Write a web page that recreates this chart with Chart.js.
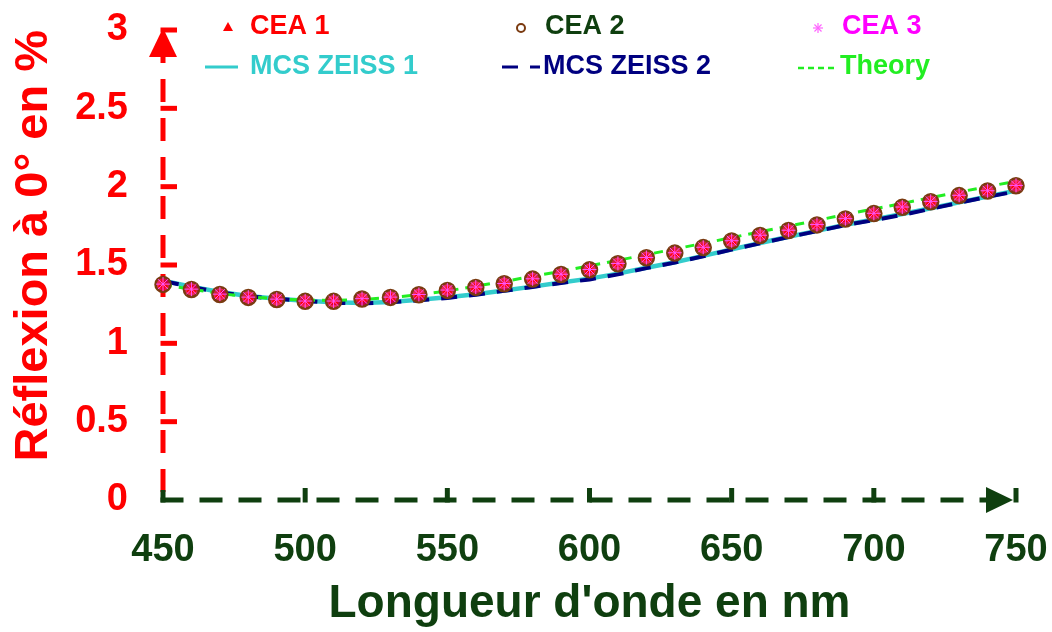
<!DOCTYPE html>
<html><head><meta charset="utf-8">
<script src="https://cdn.jsdelivr.net/npm/chart.js@4/dist/chart.umd.min.js"></script>
<style>html,body{margin:0;padding:0;background:#fff}#wrap{width:1052px;height:632px}</style>
</head><body><div id="wrap"><canvas id="c" width="1052" height="632"></canvas></div>
<script>
const wavelengths = [450,460,470,480,490,500,510,520,530,540,550,560,570,580,590,600,610,620,630,640,650,660,670,680,690,700,710,720,730,740,750];
const cea1 = [1.376,1.344,1.312,1.293,1.280,1.268,1.268,1.283,1.293,1.310,1.338,1.357,1.380,1.410,1.439,1.469,1.508,1.546,1.576,1.611,1.653,1.688,1.720,1.756,1.794,1.828,1.868,1.904,1.943,1.972,2.006];
const cea2 = [1.376,1.344,1.312,1.293,1.280,1.268,1.268,1.283,1.293,1.310,1.338,1.357,1.380,1.410,1.439,1.469,1.508,1.546,1.576,1.611,1.653,1.688,1.720,1.756,1.794,1.828,1.868,1.904,1.943,1.972,2.006];
const cea3 = [1.378,1.346,1.314,1.295,1.282,1.270,1.270,1.285,1.295,1.312,1.340,1.359,1.382,1.412,1.441,1.471,1.510,1.548,1.578,1.613,1.655,1.690,1.722,1.758,1.796,1.830,1.870,1.906,1.945,1.974,2.008];
const zeiss1 = [1.400,1.362,1.328,1.302,1.285,1.272,1.262,1.258,1.264,1.278,1.294,1.313,1.337,1.362,1.388,1.413,1.445,1.482,1.518,1.558,1.600,1.640,1.680,1.718,1.757,1.790,1.825,1.862,1.900,1.937,1.975];
const zeiss2 = [1.398,1.360,1.325,1.300,1.284,1.270,1.258,1.255,1.262,1.275,1.290,1.310,1.335,1.360,1.385,1.408,1.440,1.480,1.515,1.556,1.598,1.638,1.678,1.716,1.755,1.786,1.820,1.858,1.897,1.935,1.970];
const theory = [1.375,1.345,1.318,1.298,1.284,1.276,1.274,1.280,1.292,1.310,1.334,1.365,1.395,1.428,1.460,1.495,1.530,1.566,1.602,1.638,1.675,1.712,1.748,1.785,1.822,1.858,1.893,1.930,1.966,2.000,2.035];
const xTickValues = [450,500,550,600,650,700,750];
const yTickValues = [0,0.5,1,1.5,2,2.5,3];
const seriesNames = ['CEA 1','CEA 2','CEA 3','MCS ZEISS 1','MCS ZEISS 2','Theory'];
const xTitle = "Longueur d'onde en nm";
const yTitle = "Réflexion à 0° en %";

const RED = '#ff0000', DKGREEN = '#0f3f0f', BROWN = '#7a3a10', MAGENTA = '#ff00ff',
      CYAN = '#33cccc', NAVY = '#000080', LIME = '#22ee22';
const FONT = "'Liberation Sans', Arial, sans-serif";

const pts = arr => wavelengths.map((w,i) => ({x:w, y:arr[i]}));

const axesArt = {
  id: 'axesArt',
  beforeDatasetsDraw(chart) {
    const ctx = chart.ctx, xs = chart.scales.x, ys = chart.scales.y;
    const x0 = xs.getPixelForValue(xTickValues[0]);
    const x1 = xs.getPixelForValue(xTickValues[xTickValues.length-1]);
    const y0 = ys.getPixelForValue(yTickValues[0]);
    const y1 = ys.getPixelForValue(yTickValues[yTickValues.length-1]);
    ctx.save();
    ctx.lineCap = 'butt';
    ctx.strokeStyle = RED; ctx.fillStyle = RED; ctx.lineWidth = 5;
    ctx.setLineDash([23,16]);
    ctx.beginPath(); ctx.moveTo(x0, y0 - 8); ctx.lineTo(x0, y1 + 20); ctx.stroke();
    ctx.setLineDash([]);
    yTickValues.slice(1).forEach(v => {
      const y = ys.getPixelForValue(v);
      ctx.beginPath(); ctx.moveTo(x0 - 2.5, y); ctx.lineTo(x0 + 14, y); ctx.stroke();
    });
    ctx.beginPath(); ctx.moveTo(x0, y1 - 2); ctx.lineTo(x0 - 14, y1 + 27); ctx.lineTo(x0 + 14, y1 + 27); ctx.closePath(); ctx.fill();
    ctx.strokeStyle = DKGREEN; ctx.fillStyle = DKGREEN;
    ctx.setLineDash([23,16]);
    ctx.beginPath(); ctx.moveTo(x0 - 2.5, y0); ctx.lineTo(x1 - 25, y0); ctx.stroke();
    ctx.setLineDash([]);
    ctx.beginPath(); ctx.moveTo(x0, y0 + 2.5); ctx.lineTo(x0, y0 - 10); ctx.stroke();
    xTickValues.slice(1).forEach(v => {
      const x = xs.getPixelForValue(v);
      ctx.beginPath(); ctx.moveTo(x, y0 + 2.5); ctx.lineTo(x, y0 - 12); ctx.stroke();
    });
    ctx.beginPath(); ctx.moveTo(x1 - 3, y0); ctx.lineTo(x1 - 30, y0 - 13); ctx.lineTo(x1 - 30, y0 + 13); ctx.closePath(); ctx.fill();
    ctx.restore();
  }
};

function drawStar(ctx, x, y, r, color) {
  ctx.save(); ctx.strokeStyle = color; ctx.lineWidth = 1.2;
  for (let k = 0; k < 4; k++) {
    const a = k * Math.PI / 4;
    ctx.beginPath(); ctx.moveTo(x - r*Math.cos(a), y - r*Math.sin(a)); ctx.lineTo(x + r*Math.cos(a), y + r*Math.sin(a)); ctx.stroke();
  }
  ctx.restore();
}

const legendArt = {
  id: 'legendArt',
  afterDraw(chart) {
    const ctx = chart.ctx;
    ctx.save();
    ctx.font = "bold 27px " + FONT;
    ctx.textBaseline = 'middle'; ctx.textAlign = 'left';
    const r1 = 27, r2 = 67;
    ctx.fillStyle = RED;
    ctx.beginPath(); ctx.moveTo(228, r1 - 5); ctx.lineTo(223, r1 + 4); ctx.lineTo(233, r1 + 4); ctx.closePath(); ctx.fill();
    ctx.fillText(seriesNames[0], 250, r1);
    ctx.strokeStyle = BROWN; ctx.lineWidth = 2;
    ctx.beginPath(); ctx.arc(521, r1 + 1, 4, 0, Math.PI*2); ctx.stroke();
    ctx.fillStyle = DKGREEN; ctx.fillText(seriesNames[1], 545, r1);
    drawStar(ctx, 818, r1 + 1, 5, '#ff66ff');
    ctx.fillStyle = MAGENTA; ctx.fillText(seriesNames[2], 842, r1);
    ctx.strokeStyle = CYAN; ctx.lineWidth = 3;
    ctx.beginPath(); ctx.moveTo(205, r2); ctx.lineTo(238, r2); ctx.stroke();
    ctx.fillStyle = CYAN; ctx.fillText(seriesNames[3], 250, r2);
    ctx.strokeStyle = NAVY; ctx.lineWidth = 3;
    ctx.beginPath(); ctx.moveTo(502, r2); ctx.lineTo(518, r2); ctx.moveTo(530, r2); ctx.lineTo(540, r2); ctx.stroke();
    ctx.fillStyle = NAVY; ctx.fillText(seriesNames[4], 543, r2);
    ctx.strokeStyle = LIME; ctx.lineWidth = 2.5;
    ctx.setLineDash([6,4]);
    ctx.beginPath(); ctx.moveTo(798, r2 + 1); ctx.lineTo(838, r2 + 1); ctx.stroke();
    ctx.setLineDash([]);
    ctx.fillStyle = LIME; ctx.fillText(seriesNames[5], 840, r2);
    ctx.restore();
  }
};

new Chart(document.getElementById('c'), {
  type: 'scatter',
  data: {
    datasets: [
      { label: seriesNames[2], data: pts(cea3), showLine: false, pointStyle: 'star', pointRadius: 7, pointBorderColor: '#ff55ff', pointBorderWidth: 1, pointBackgroundColor: '#ff55ff', order: 1, clip: false },
      { label: seriesNames[0], data: pts(cea1), showLine: false, pointStyle: 'triangle', pointRadius: 5, pointBorderColor: RED, pointBackgroundColor: RED, pointBorderWidth: 1, order: 2, clip: false },
      { label: seriesNames[1], data: pts(cea2), showLine: false, pointStyle: 'circle', pointRadius: 7.5, pointBorderColor: BROWN, pointBorderWidth: 2.5, pointBackgroundColor: 'rgba(235,0,60,0.85)', order: 3, clip: false },
      { label: seriesNames[5], data: pts(theory), showLine: true, borderColor: LIME, borderWidth: 3, borderDash: [9,7], pointRadius: 0, order: 4, clip: false },
      { label: seriesNames[4], data: pts(zeiss2), showLine: true, borderColor: NAVY, borderWidth: 4, borderDash: [16,12], pointRadius: 0, order: 5, clip: false },
      { label: seriesNames[3], data: pts(zeiss1), showLine: true, borderColor: CYAN, borderWidth: 4.5, pointRadius: 0, order: 6, clip: false }
    ]
  },
  options: {
    responsive: false,
    animation: false,
    devicePixelRatio: 1,
    layout: { padding: { top: 30, right: 36, left: 0, bottom: 0 } },
    plugins: { legend: { display: false }, tooltip: { enabled: false } },
    scales: {
      x: {
        type: 'linear', min: 450, max: 750,
        afterBuildTicks: s => { s.ticks = xTickValues.map(v => ({value: v})); },
        afterFit: s => { s.height = 132; s.paddingLeft = 0; s.paddingRight = 0; },
        grid: { display: false, drawTicks: false },
        border: { display: false },
        ticks: { color: DKGREEN, font: { family: FONT, size: 38, weight: 'bold' }, padding: 28, maxRotation: 0, autoSkip: false },
        title: { display: true, text: xTitle, color: DKGREEN, font: { family: FONT, size: 46, weight: 'bold' }, padding: { top: 0, bottom: 0 } }
      },
      y: {
        type: 'linear', min: 0, max: 3,
        afterBuildTicks: s => { s.ticks = yTickValues.map(v => ({value: v})); },
        afterFit: s => { s.width = 163; s.paddingTop = 0; s.paddingBottom = 0; },
        grid: { display: false, drawTicks: false },
        border: { display: false },
        ticks: { color: RED, font: { family: FONT, size: 38, weight: 'bold' }, padding: 35, callback: v => String(v) },
        title: { display: true, text: yTitle, align: 'end', color: RED, font: { family: FONT, size: 47, weight: 'bold' }, padding: { top: 6, bottom: 0 } }
      }
    }
  },
  plugins: [axesArt, legendArt]
});
</script></body></html>
